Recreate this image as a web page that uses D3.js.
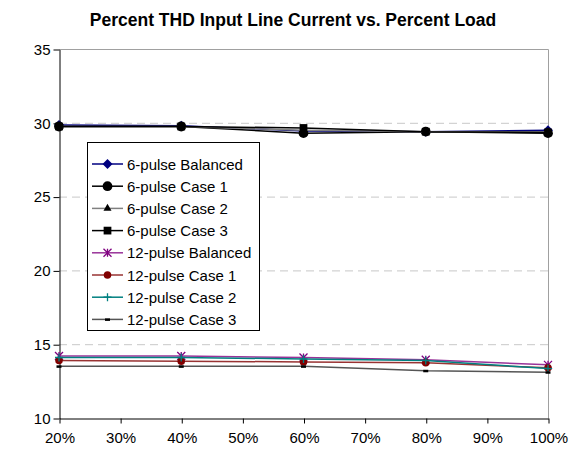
<!DOCTYPE html>
<html>
<head>
<meta charset="utf-8">
<script src="https://cdn.jsdelivr.net/npm/d3@7"></script>
<style>
  body { margin: 0; background: #fff; }
  svg { display: block; font-family: "Liberation Sans", Arial, sans-serif; }
</style>
</head>
<body>
<script>
// data
var loads = [20, 40, 60, 80, 100];
var xTicks = [20, 30, 40, 50, 60, 70, 80, 90, 100];
var yTicks = [10, 15, 20, 25, 30, 35];

var seriesNames = ["6-pulse Balanced", "6-pulse Case 1", "6-pulse Case 2", "6-pulse Case 3",
  "12-pulse Balanced", "12-pulse Case 1", "12-pulse Case 2", "12-pulse Case 3"];

var sixBalanced = [29.85, 29.8, 29.45, 29.4, 29.5];
var sixCase1 = [29.75, 29.75, 29.3, 29.4, 29.3];
var sixCase2 = [29.75, 29.75, 29.5, 29.4, 29.4];
var sixCase3 = [29.75, 29.75, 29.65, 29.4, 29.35];
var twelveBalanced = [14.2, 14.2, 14.1, 13.95, 13.6];
var twelveCase1 = [13.9, 13.85, 13.8, 13.75, 13.4];
var twelveCase2 = [14.1, 14.1, 14.0, 13.9, 13.35];
var twelveCase3 = [13.5, 13.5, 13.5, 13.2, 13.1];

var allValues = [sixBalanced, sixCase1, sixCase2, sixCase3,
  twelveBalanced, twelveCase1, twelveCase2, twelveCase3];

var styles = [
  {line: "#000080", color: "#000080", marker: "diamond", size: 5},
  {line: "#000000", color: "#000000", marker: "circle", size: 75},
  {line: "#808080", color: "#000000", marker: "triangle", size: 28},
  {line: "#000000", color: "#000000", marker: "square", size: 60},
  {line: "#993399", color: "#800080", marker: "star", size: 0},
  {line: "#993333", color: "#800000", marker: "circle", size: 45},
  {line: "#008080", color: "#008080", marker: "plus", size: 0},
  {line: "#555555", color: "#000000", marker: "dash", size: 0}
];

var W = 578, H = 449;
var m = {left: 59, right: 548, top: 49, bottom: 418};

var svg = d3.select("body").append("svg")
  .attr("width", W).attr("height", H);

var x = d3.scaleLinear().domain([20, 100]).range([m.left, m.right]);
var y = d3.scaleLinear().domain([10, 35]).range([m.bottom, m.top]);

svg.append("text")
  .attr("x", 293).attr("y", 26)
  .attr("text-anchor", "middle")
  .attr("font-size", 17.5).attr("font-weight", "bold")
  .text("Percent THD Input Line Current vs. Percent Load");

// gridlines
svg.append("g").selectAll("line")
  .data(yTicks.filter(function(d) { return d > 10 && d < 35; }))
  .join("line")
  .attr("x1", m.left).attr("x2", m.right)
  .attr("y1", function(d) { return y(d) + 0.5; })
  .attr("y2", function(d) { return y(d) + 0.5; })
  .attr("stroke", "#c8c8c8").attr("stroke-dasharray", "8,5");

// plot border top / right
svg.append("path")
  .attr("d", "M" + m.left + "," + (m.top + 0.5) + "H" + (m.right + 0.5) + "V" + m.bottom)
  .attr("fill", "none").attr("stroke", "#a0a0a0");

// axes
var yAxis = d3.axisLeft(y).tickValues(yTicks).tickSize(6).tickSizeOuter(0);
var gy = svg.append("g").attr("transform", "translate(" + (m.left + 0.5) + ",0.5)").call(yAxis);
gy.selectAll("text").attr("font-size", 15).attr("fill", "#000");

var xAxis = d3.axisBottom(x).tickValues(xTicks).tickSize(5).tickSizeOuter(0)
  .tickFormat(function(d) { return d + "%"; });
var gx = svg.append("g").attr("transform", "translate(0.5," + (m.bottom + 0.5) + ")").call(xAxis);
gx.selectAll("text").attr("font-size", 15).attr("fill", "#000").attr("dy", "1.1em");

svg.selectAll(".domain, .tick line").attr("stroke", "#000");
svg.selectAll(".tick text").attr("font-family", "Liberation Sans, Arial, sans-serif");

function drawMarker(g, st, cx, cy) {
  if (st.marker === "star") {
    var s = 4;
    g.append("path")
      .attr("d", "M" + (cx - s) + "," + (cy - s) + "L" + (cx + s) + "," + (cy + s) +
        "M" + (cx - s) + "," + (cy + s) + "L" + (cx + s) + "," + (cy - s) +
        "M" + cx + "," + (cy - s) + "V" + (cy + s))
      .attr("stroke", st.color).attr("stroke-width", 1.3).attr("fill", "none");
  } else if (st.marker === "plus") {
    g.append("path")
      .attr("d", "M" + (cx - 4) + "," + cy + "H" + (cx + 4) + "M" + cx + "," + (cy - 4) + "V" + (cy + 4))
      .attr("stroke", st.color).attr("stroke-width", 1.3).attr("fill", "none");
  } else if (st.marker === "dash") {
    g.append("rect")
      .attr("x", cx - 2.5).attr("y", cy - 1).attr("width", 5).attr("height", 2.5)
      .attr("fill", st.color);
  } else if (st.marker === "diamond") {
    var r = st.size;
    g.append("path")
      .attr("d", "M" + cx + "," + (cy - r) + "L" + (cx + r) + "," + cy + "L" + cx + "," + (cy + r) +
        "L" + (cx - r) + "," + cy + "Z")
      .attr("fill", st.color);
  } else {
    var typ = {circle: d3.symbolCircle, triangle: d3.symbolTriangle, square: d3.symbolSquare}[st.marker];
    g.append("path")
      .attr("d", d3.symbol().type(typ).size(st.size)())
      .attr("transform", "translate(" + cx + "," + cy + ")")
      .attr("fill", st.color);
  }
}

var line = d3.line()
  .x(function(d, i) { return x(loads[i]); })
  .y(function(d) { return y(d); });

allValues.forEach(function(vals, k) {
  var st = styles[k];
  var g = svg.append("g");
  g.append("path").attr("d", line(vals))
    .attr("fill", "none").attr("stroke", st.line).attr("stroke-width", 1.5);
  vals.forEach(function(v, i) { drawMarker(g, st, x(loads[i]), y(v)); });
});

// legend
var leg = svg.append("g");
leg.append("rect")
  .attr("x", 87.5).attr("y", 142.5).attr("width", 172).attr("height", 188)
  .attr("fill", "#fff").attr("stroke", "#000");

seriesNames.forEach(function(name, k) {
  var st = styles[k];
  var cy = 164 + k * 22.2;
  var g = leg.append("g");
  g.append("line").attr("x1", 92).attr("x2", 123).attr("y1", cy).attr("y2", cy)
    .attr("stroke", st.line).attr("stroke-width", 1.5);
  drawMarker(g, st, 107.5, cy);
  g.append("text").attr("x", 127).attr("y", cy + 5.5)
    .attr("font-size", 15).text(name);
});
</script>
</body>
</html>
